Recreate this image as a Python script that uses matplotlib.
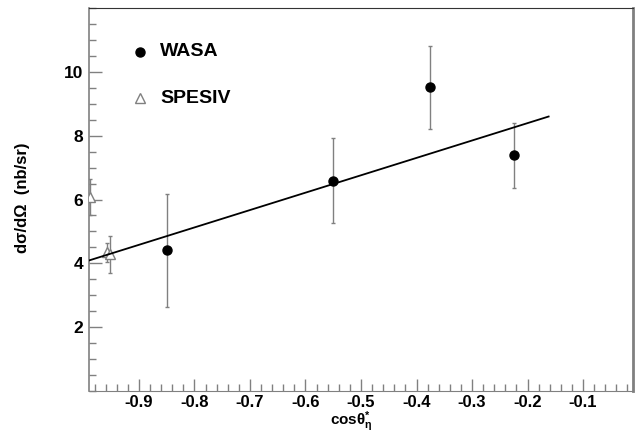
import matplotlib
matplotlib.use("Agg")
import matplotlib.pyplot as plt
from matplotlib.ticker import MultipleLocator, FixedLocator

plt.rcParams['font.family'] = ['Liberation Sans', 'DejaVu Sans']
plt.rcParams['mathtext.fontset'] = 'custom'
plt.rcParams['mathtext.rm'] = 'Liberation Sans:bold'
plt.rcParams['mathtext.it'] = 'Liberation Sans:bold'
plt.rcParams['mathtext.bf'] = 'Liberation Sans:bold'

# WASA data
wasa_x = [-0.85, -0.55, -0.375, -0.225]
wasa_y = [4.41, 6.59, 9.51, 7.38]
wasa_err = [1.77, 1.34, 1.30, 1.02]

# SPESIV data
spesiv_x = [-0.988, -0.957, -0.953]
spesiv_y = [6.07, 4.35, 4.28]
spesiv_err = [0.57, 0.30, 0.59]

# linear fit
fit_x = [-0.99, -0.162]
fit_y = [4.09, 8.60]

xticks = [-0.9, -0.8, -0.7, -0.6, -0.5, -0.4, -0.3, -0.2, -0.1]
yticks = [2, 4, 6, 8, 10]

fig = plt.figure(figsize=(6.39, 4.34), dpi=100)
ax = fig.add_axes([89/639, 1-391/434, (633-89)/639, (391-8)/434])

gray = '#808080'
ax.errorbar(wasa_x, wasa_y, yerr=wasa_err, fmt='o', color='black', ms=6.5,
            ecolor=gray, elinewidth=1.0, capsize=1.5, capthick=1.0, zorder=3)
ax.errorbar(spesiv_x, spesiv_y, yerr=spesiv_err, fmt='^', mfc='white', mec=gray,
            ms=6.5, mew=1.0, ecolor=gray, elinewidth=1.0, capsize=1.5, capthick=1.0, zorder=3)
ax.plot(fit_x, fit_y, color='black', lw=1.3, zorder=4)

ax.set_xlim(-0.99, -0.01)
ax.set_ylim(0, 12)
ax.xaxis.set_major_locator(FixedLocator(xticks))
ax.xaxis.set_minor_locator(MultipleLocator(0.02))
ax.yaxis.set_major_locator(FixedLocator(yticks))
ax.yaxis.set_minor_locator(MultipleLocator(0.5))
ax.set_xticklabels([f"{v:.1f}" for v in xticks])
ax.set_yticklabels([str(v) for v in yticks])
ax.tick_params(which='both', direction='in', top=False, right=False, color=gray, width=1.0,
               labelsize=12.5)
ax.tick_params(which='major', length=9)
ax.tick_params(axis='x', which='major', pad=3, labelsize=12)
ax.tick_params(axis='y', which='major', pad=4)
ax.tick_params(which='minor', length=5)
for lab in ax.get_xticklabels() + ax.get_yticklabels():
    lab.set_fontweight('bold')

for s in ['left', 'right']:
    ax.spines[s].set_color(gray)
ax.spines['right'].set_linewidth(2)
ax.spines['left'].set_linewidth(1.2)
ax.spines['top'].set_color('#333333')
ax.spines['bottom'].set_color(gray)

ax.set_xlabel('cosθ$^{*}_{\\eta}$', fontsize=11, fontweight='bold')
ax.xaxis.set_label_coords((351-89)/544, -(433.5-391)/383)
ax.xaxis.label.set_va('bottom')
ax.set_ylabel('dσ/dΩ  (nb/sr)', fontsize=12, fontweight='bold')
ax.yaxis.set_label_coords(-(89-22)/544, (391-198)/383)
ax.yaxis.label.set_va('center')

# legend
ax.plot([-0.99 + (140-89)/556], [12*(391-52)/383], 'o', color='black', ms=6.5)
ax.text(-0.99 + (160-89)/556, 12*(391-52)/383, 'WASA', fontsize=14, fontweight='bold', va='center')
ax.plot([-0.99 + (140-89)/556], [12*(391-98)/383], '^', mfc='white', mec=gray, ms=6.5)
ax.text(-0.99 + (160-89)/556, 12*(391-98)/383, 'SPESIV', fontsize=14, fontweight='bold', va='center')

fig.savefig('out.png', dpi=100)
